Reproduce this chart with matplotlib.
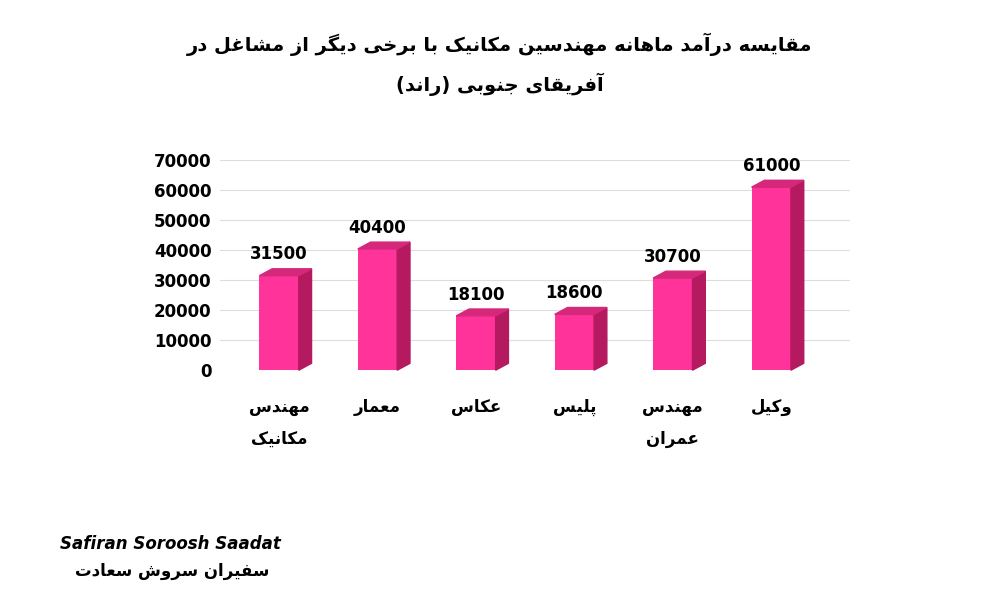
import matplotlib
matplotlib.use("Agg")
import matplotlib.pyplot as plt
from matplotlib.patches import Polygon

# داده ها
categories = ["مهندس\nمکانیک", "معمار", "عکاس", "پلیس", "مهندس\nعمران", "وکیل"]
values = [31500, 40400, 18100, 18600, 30700, 61000]
yticks = [0, 10000, 20000, 30000, 40000, 50000, 60000, 70000]
title_lines = ["مقایسه درآمد ماهانه مهندسین مکانیک با برخی دیگر از مشاغل در",
               "آفریقای جنوبی (راند)"]

# شکل های حروف: isolated, final, initial, medial
FORMS = {
    'ا': (0xFE8D, 0xFE8E, None, None), 'آ': (0xFE81, 0xFE82, None, None),
    'ب': (0xFE8F, 0xFE90, 0xFE91, 0xFE92), 'پ': (0xFB56, 0xFB57, 0xFB58, 0xFB59),
    'ج': (0xFE9D, 0xFE9E, 0xFE9F, 0xFEA0), 'خ': (0xFEA5, 0xFEA6, 0xFEA7, 0xFEA8),
    'د': (0xFEA9, 0xFEAA, None, None), 'ر': (0xFEAD, 0xFEAE, None, None),
    'ز': (0xFEAF, 0xFEB0, None, None), 'س': (0xFEB1, 0xFEB2, 0xFEB3, 0xFEB4),
    'ش': (0xFEB5, 0xFEB6, 0xFEB7, 0xFEB8), 'ع': (0xFEC9, 0xFECA, 0xFECB, 0xFECC),
    'غ': (0xFECD, 0xFECE, 0xFECF, 0xFED0), 'ف': (0xFED1, 0xFED2, 0xFED3, 0xFED4),
    'ق': (0xFED5, 0xFED6, 0xFED7, 0xFED8), 'ک': (0xFB8E, 0xFB8F, 0xFB90, 0xFB91),
    'گ': (0xFB92, 0xFB93, 0xFB94, 0xFB95), 'ل': (0xFEDD, 0xFEDE, 0xFEDF, 0xFEE0),
    'م': (0xFEE1, 0xFEE2, 0xFEE3, 0xFEE4), 'ن': (0xFEE5, 0xFEE6, 0xFEE7, 0xFEE8),
    'ه': (0xFEE9, 0xFEEA, 0xFEEB, 0xFEEC), 'و': (0xFEED, 0xFEEE, None, None),
    'ی': (0xFBFC, 0xFBFD, 0xFBFE, 0xFBFF),
}


def shape_line(s):
    out = []
    for i, ch in enumerate(s):
        if ch not in FORMS:
            out.append(ch)
            continue
        prev = s[i - 1] if i > 0 else ''
        nxt = s[i + 1] if i + 1 < len(s) else ''
        join_prev = prev in FORMS and FORMS[prev][2] is not None
        join_next = nxt in FORMS and FORMS[ch][2] is not None
        iso, fin, ini, med = FORMS[ch]
        if join_prev and join_next:
            c = med
        elif join_prev:
            c = fin
        elif join_next:
            c = ini
        else:
            c = iso
        out.append(chr(c))
    r = ''.join(out)[::-1]
    return r.translate(str.maketrans("()", ")("))


def fa(s):
    return "\n".join(shape_line(l) for l in s.split("\n"))


plt.rcParams["font.family"] = "DejaVu Sans"
fig = plt.figure(figsize=(10, 6), dpi=100)
ax = fig.add_axes([0.22, 0.383, 0.63, 0.35])

x = list(range(len(values)))
w = 0.4
dx, dy = 0.13, 2300
front = "#FF3399"
side = "#B5195F"
top = "#D6287A"
for xi, v in zip(x, values):
    ax.bar(xi, v, width=w, color=front, zorder=3)
    ax.add_patch(Polygon([(xi + w / 2, 0), (xi + w / 2 + dx, dy), (xi + w / 2 + dx, v + dy), (xi + w / 2, v)],
                         closed=True, color=side, zorder=3, clip_on=False))
    ax.add_patch(Polygon([(xi - w / 2, v), (xi - w / 2 + dx, v + dy), (xi + w / 2 + dx, v + dy), (xi + w / 2, v)],
                         closed=True, color=top, zorder=3, clip_on=False))
    ax.text(xi, v + dy + 1800, str(v), ha="center", va="bottom", fontsize=12, fontweight="bold")

ax.set_xlim(-0.6, 5.8)
ax.set_ylim(0, 70000)
ax.set_yticks(yticks)
ax.set_yticklabels([str(t) for t in yticks], fontsize=12, fontweight="bold")
ax.set_xticks(x)
ax.set_xticklabels([fa(c) for c in categories], fontsize=12, fontweight="bold", linespacing=2.0)
ax.tick_params(length=0, pad=6)
ax.tick_params(axis="x", pad=20)
ax.grid(axis="y", color="#dddddd", lw=0.8, zorder=0)
for s in ax.spines.values():
    s.set_visible(False)

fig.text(0.5, 0.915, fa(title_lines[0]), ha="center", fontsize=14, fontweight="bold")
fig.text(0.5, 0.848, fa(title_lines[1]), ha="center", fontsize=14, fontweight="bold")

# لوگو
fig.text(0.06, 0.085, "Safiran Soroosh Saadat", fontsize=12, fontweight="bold", style="italic")
fig.text(0.075, 0.04, fa("سفیران سروش سعادت"), fontsize=12, fontweight="bold")

fig.savefig("out.png", dpi=100)
